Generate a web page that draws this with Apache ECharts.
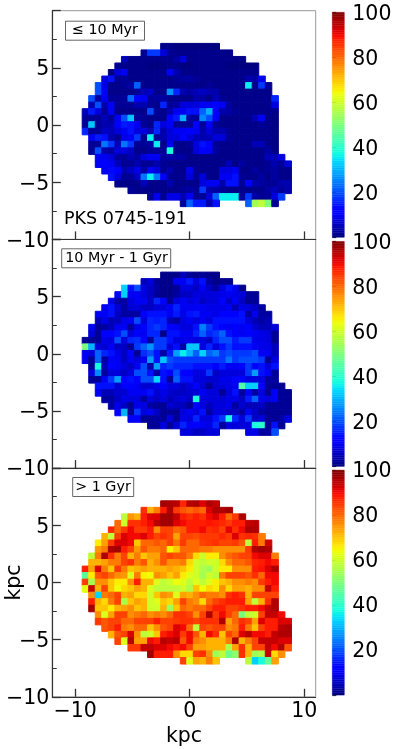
<!DOCTYPE html>
<html><head><meta charset="utf-8">
<style>html,body{margin:0;padding:0;background:#fff}#c{width:397px;height:749px}</style>
<script src="https://cdn.jsdelivr.net/npm/echarts@6/dist/echarts.min.js"></script>
</head><body><div id="c"></div>
<script>
// first populated column of each row (rows run from top to bottom)
const rowStart = [12,9,6,5,4,3,2,2,1,1,0,0,0,0,1,1,1,2,2,3,4,5,7,10,15];
const N = null;
const youngMap = [
[1,1,0,0,0,0,0,0,0],
[2,18,18,8,2,1,1,1,1,1,1,1,1,1],
[5,1,1,1,1,1,1,1,3,8,1,1,1,1,1,1,1,1,1],
[2,1,1,1,1,0,0,0,1,1,0,0,1,1,1,1,1,0,0,0,0,0],
[0,8,10,1,1,1,1,1,1,10,4,1,1,1,1,1,1,1,1,1,1,1,1],
[8,14,2,2,1,1,1,1,1,1,1,2,3,3,2,1,1,1,1,1,1,1,4,3,10],
[20,9,1,1,2,3,22,1,1,1,1,1,1,1,1,1,1,2,1,1,1,1,1,36,1,18,2],
[20,10,1,1,1,1,2,5,6,1,1,27,16,4,3,5,6,4,4,1,1,1,1,1,1,1,1],
[20,3,10,2,2,2,23,12,10,2,3,3,1,1,1,1,4,3,1,5,2,1,1,1,1,1,1,1,16],
[4,20,4,10,2,2,2,4,4,2,1,16,2,3,8,8,8,10,10,12,10,3,1,1,1,1,1,1,8],
[5,15,8,2,10,1,1,1,1,1,20,2,1,4,10,10,14,14,22,30,10,4,3,2,1,1,1,1,1,1],
[2,2,2,5,2,10,20,32,2,2,1,1,1,12,15,30,3,2,26,20,10,1,1,1,1,1,5,12,1,1],
[2,32,2,4,4,12,15,14,10,2,1,16,8,10,2,2,2,12,2,10,2,1,1,1,1,1,1,2,1,1],
[16,2,2,6,5,8,10,14,8,8,4,16,4,8,10,10,12,10,4,8,4,4,2,1,1,1,1,1,1,1],
[10,15,14,4,2,9,10,18,2,36,2,4,8,8,11,8,5,4,5,8,8,2,1,1,1,1,1,1,1],
[2,2,24,18,5,24,18,2,2,3,36,1,10,1,1,2,8,14,12,2,1,1,1,1,1,5,5,1,1],
[2,20,4,3,8,8,6,1,1,2,2,2,38,1,1,1,8,12,10,3,1,1,1,1,1,1,1,3,1],
[10,10,8,3,2,4,3,8,10,10,3,3,3,3,1,1,1,1,1,1,1,1,1,1,1,1,5,5,8],
[10,12,10,5,2,2,4,2,2,4,2,1,1,1,1,1,1,1,1,1,5,1,3,1,1,1,2,4,2,8],
[10,13,11,4,6,9,3,12,8,2,4,1,1,10,2,1,1,1,8,8,10,1,1,3,1,2,3,1,1],
[14,8,2,2,6,24,36,24,12,2,1,2,8,2,8,1,1,10,10,14,2,1,1,3,1,3,1,1],
[1,1,1,1,5,1,1,1,4,1,1,1,1,8,10,10,4,14,14,2,11,4,3,2,2,4,4],
[2,1,1,1,1,1,1,1,2,3,2,18,4,3,2,1,1,1,1,1,1,3,5,2,4],
[2,10,2,9,9,5,10,2,2,8,22,36,36,36,2,18,3,2,2,8,18],
[2,22,15,15,4,14,N,N,N,N,22,55,58,50,2]
];
const midMap = [
[1,1,1,5,2,1,2,1,1],
[5,8,2,1,1,10,10,15,8,14,3,1,2,1],
[33,14,20,8,6,3,1,1,2,8,8,6,10,6,3,8,14,10,1],
[12,33,10,10,8,6,2,1,1,3,6,6,8,8,8,8,9,10,9,8,2,2],
[10,3,3,8,10,10,6,16,12,2,8,10,8,9,6,8,8,12,6,10,6,2,2],
[10,14,7,3,7,8,6,6,8,8,10,16,10,10,10,10,9,9,9,10,5,9,8,6,3],
[10,10,14,6,3,3,3,12,14,14,14,10,15,9,14,15,10,10,9,12,11,11,14,3,10,3,3],
[5,9,5,5,9,10,20,8,16,15,16,5,3,8,10,8,10,8,14,14,14,14,14,8,5,3,5],
[10,2,3,5,10,10,3,9,12,16,18,16,12,10,8,8,14,25,18,14,12,10,12,10,12,7,5,5,8],
[8,2,12,12,14,20,8,12,10,16,16,1,14,14,10,10,16,22,16,18,22,14,12,10,12,10,9,8,2],
[2,2,2,9,8,20,8,16,17,12,2,18,18,14,8,9,9,8,8,6,16,20,20,15,18,18,9,9,8,2],
[50,30,8,7,10,6,6,2,18,22,27,18,18,8,14,3,32,32,8,16,8,14,18,14,14,14,10,9,9,5],
[10,8,22,16,14,9,6,12,2,17,20,14,3,15,28,36,30,22,33,22,25,18,20,18,18,18,20,10,10,5],
[10,2,22,3,10,10,6,10,8,10,28,14,32,20,18,18,18,18,18,18,18,18,24,18,20,20,20,18,2,8],
[2,38,5,12,10,8,6,10,20,3,28,16,18,16,16,16,14,14,14,12,15,10,10,12,18,12,14,8,14],
[8,26,3,8,8,6,8,20,20,14,3,14,12,20,12,12,8,8,18,6,8,8,8,8,18,28,14,10,2],
[2,2,10,18,28,12,14,12,20,20,34,14,2,22,14,14,8,8,7,7,9,9,12,12,8,8,8,3,3],
[14,14,14,7,12,12,10,7,7,9,12,8,8,6,8,12,7,2,7,8,9,10,45,33,33,12,2,2,2],
[10,5,5,7,7,10,10,10,14,7,9,7,6,6,7,7,10,8,8,2,8,14,3,10,3,8,2,10,2,2],
[3,3,6,9,8,8,3,8,6,8,5,7,8,6,38,8,8,8,7,9,9,6,15,22,9,8,10,2,2],
[3,9,6,2,9,9,3,2,2,7,6,5,2,12,8,5,8,8,9,3,7,5,5,6,2,2,2,2],
[12,30,2,18,8,10,6,2,2,2,8,10,8,14,3,8,8,6,6,3,10,6,3,2,2,2,2],
[10,12,2,2,3,2,8,2,9,8,16,8,8,14,18,38,16,8,18,6,8,2,2,3,8],
[2,2,8,2,8,16,10,12,10,9,16,2,8,8,8,8,38,40,2,14,2],
[8,8,6,6,8,8,N,N,N,N,9,9,3,3,20]
];
const oldMap = [
[97,96,95,87,95,96,92,96,94],
[86,72,78,88,96,85,82,80,82,80,92,96,96,97],
[58,75,72,88,92,92,97,97,94,88,86,88,86,90,92,88,80,85,96],
[80,60,86,86,88,90,95,97,97,92,90,88,88,88,89,88,87,85,88,88,94,95],
[87,80,85,90,85,85,88,76,84,84,80,82,88,88,90,86,87,84,91,86,90,96,96],
[72,58,85,92,90,90,92,88,84,86,84,74,84,84,83,85,85,85,87,85,92,86,87,86,78],
[66,74,85,92,92,90,70,80,80,82,80,84,78,85,80,80,84,85,86,84,84,85,82,58,88,78,93],
[75,78,96,97,88,84,75,82,78,78,80,65,70,80,80,80,78,78,76,76,76,76,76,85,96,97,96],
[58,78,96,86,78,84,72,78,70,74,74,82,84,82,82,78,68,60,66,66,76,80,82,84,84,90,92,92,78],
[72,72,74,78,78,84,86,78,82,72,76,82,76,76,78,68,60,58,60,60,68,76,80,80,82,87,88,90,88],
[88,74,92,78,70,85,78,70,72,74,72,72,72,74,72,70,66,60,56,54,60,66,66,76,76,76,88,89,92,96],
[46,66,82,84,80,76,75,62,78,65,64,76,74,70,74,66,62,60,55,60,58,78,84,84,84,82,86,80,90,90],
[85,55,76,76,70,66,66,76,88,72,72,62,58,60,64,62,58,62,58,62,66,70,72,76,76,78,76,85,88,90],
[63,94,72,84,70,64,68,70,74,72,62,58,58,58,58,60,56,70,64,68,66,76,68,74,74,72,76,76,94,88],
[76,33,78,80,84,72,74,68,68,60,70,76,74,62,74,72,76,80,78,78,76,86,88,86,72,84,84,84,84],
[88,72,68,78,84,56,70,74,72,60,62,70,68,74,84,78,76,68,80,84,86,88,88,88,74,58,72,86,96],
[97,70,70,66,72,74,76,70,72,60,60,72,54,70,80,78,80,80,84,88,88,84,84,86,88,88,90,94,96],
[76,62,74,84,84,76,78,80,76,78,76,80,86,86,84,76,84,96,85,90,84,80,50,58,60,84,94,94,90],
[85,82,84,84,80,80,84,84,84,88,84,84,85,86,86,84,86,86,86,96,74,80,86,84,74,92,88,88,92,92],
[82,84,88,78,76,80,80,70,76,82,84,92,90,80,58,84,82,84,84,76,78,88,78,70,84,88,88,95,96],
[72,82,84,92,76,58,60,70,88,90,92,85,90,82,72,90,86,70,84,80,92,95,90,90,88,94,96,96],
[84,62,95,74,74,90,88,95,94,95,82,90,78,76,72,72,72,78,96,72,78,84,94,94,94,92,92],
[85,85,94,94,92,92,90,88,90,84,74,74,72,72,72,56,74,86,72,84,84,94,90,96,82],
[97,88,88,88,76,68,68,84,86,76,54,58,48,52,86,72,54,56,94,68,76],
[84,62,74,72,78,70,N,N,N,N,58,33,38,48,74]
];
const panelLabels = ['\u2264 10 Myr', '10 Myr - 1 Gyr', '> 1 Gyr'];
const sourceName = 'PKS 0745-191';
const xMajorTicks = [-10, 0, 10];
const xMinorTicks = [-7.5, -5, -2.5, 2.5, 5, 7.5];
const axisTitle = 'kpc';

const FONT = 'DejaVu Sans';
const CELL = 0.571, X0 = -9.39, Y0 = 7.14;
const GRID_L = 52.3, GRID_W = 263.4, GRID_H = 228.7, GRID_T = [10.7, 239.4, 468.1];
const BAR_L = 332.3, BAR_W = 12, BAR_H = 225, BAR_T = [12.3, 241.4, 470.1];

function jetChannel(t, pts) {
  for (let i = 1; i < pts.length; i++) {
    if (t <= pts[i][0]) {
      const a = pts[i - 1], b = pts[i];
      return a[1] + (b[1] - a[1]) * (t - a[0]) / (b[0] - a[0]);
    }
  }
  return pts[pts.length - 1][1];
}
function jet(t) {
  const r = jetChannel(t, [[0,0],[0.35,0],[0.66,1],[0.89,1],[1,0.5]]);
  const g = jetChannel(t, [[0,0],[0.125,0],[0.375,1],[0.64,1],[0.91,0],[1,0]]);
  const b = jetChannel(t, [[0,0.5],[0.11,1],[0.34,1],[0.65,0],[1,0]]);
  return `rgb(${Math.round(r*255)},${Math.round(g*255)},${Math.round(b*255)})`;
}
const jetPalette = [];
for (let i = 0; i <= 100; i++) jetPalette.push(jet(i / 100));

function cells(map) {
  const out = [];
  map.forEach((row, r) => row.forEach((v, i) => {
    if (v === null) return;
    const c = rowStart[r] + i;
    out.push([X0 + (c + 0.5) * CELL, Y0 - (r + 0.5) * CELL, v]);
  }));
  return out;
}
function renderCell(params, api) {
  const x = api.value(0), y = api.value(1), h = CELL / 2;
  const a = api.coord([x - h, y + h]), b = api.coord([x + h, y - h]);
  const color = api.visual('color');
  return { type: 'rect', shape: { x: a[0], y: a[1], width: b[0] - a[0], height: b[1] - a[1] },
    style: { fill: color, stroke: color, lineWidth: 1 } };
}
function renderBar(params, api) {
  const v = api.value(1);
  const a = api.coord([0, v + 0.5]), b = api.coord([1, v - 0.5]);
  const color = api.visual('color');
  return { type: 'rect', shape: { x: a[0], y: a[1], width: b[0] - a[0], height: b[1] - a[1] },
    style: { fill: color, stroke: color, lineWidth: 0.4 } };
}
const barLevels = [];
for (let v = 0.5; v < 100; v += 1) barLevels.push([0, v, v]);

const minus = v => String(v).replace('-', '\u2212');
const LABEL_RICH = { t: { fontSize: 20.5, fontFamily: FONT, color: '#000', padding: [4, 0, 0, 0] } };
const AXC = '#333';
const grids = [], xAxes = [], yAxes = [], series = [], titles = [];
[youngMap, midMap, oldMap].forEach((map, p) => {
  const last = p === 2;
  const g = grids.length;
  grids.push({ left: GRID_L, top: GRID_T[p], width: GRID_W, height: GRID_H, show: true,
    outerBoundsMode: 'none', containLabel: false,
    borderColor: '#999', borderWidth: 1, backgroundColor: '#fff' });
  const xi = xAxes.length, yi = yAxes.length;
  xAxes.push({ type: 'value', gridIndex: g, min: -12, max: 11, splitLine: { show: false },
    name: last ? axisTitle : '', nameLocation: 'middle', nameGap: 29, nameMoveOverlap: false,
    nameTextStyle: { fontSize: 20.5, fontFamily: FONT, color: '#000' },
    axisLine: { onZero: false, lineStyle: { color: AXC, width: 1.2 } },
    axisTick: { inside: true, length: 8, customValues: xMajorTicks, lineStyle: { color: AXC, width: 1.3 } },
    axisLabel: { show: last, customValues: xMajorTicks, margin: 4, fontSize: 20.5, fontFamily: FONT, color: '#000', formatter: minus } });
  xAxes.push({ type: 'value', gridIndex: g, min: -12, max: 11, splitLine: { show: false },
    axisLine: { show: false },
    axisTick: { inside: true, length: 4.5, customValues: xMinorTicks, lineStyle: { color: AXC, width: 1 } },
    axisLabel: { show: false, customValues: xMinorTicks } });
  yAxes.push({ type: 'value', gridIndex: g, min: -10, max: 10, interval: 5, splitLine: { show: false },
    name: last ? axisTitle : '', nameLocation: 'middle', nameGap: 27, nameRotate: 90, nameMoveOverlap: false,
    nameTextStyle: { fontSize: 20.5, fontFamily: FONT, color: '#000' },
    axisLine: { onZero: false, lineStyle: { color: AXC, width: 1.2 } },
    axisTick: { inside: true, length: 8.5, lineStyle: { color: AXC, width: 1.3 } },
    minorTick: { show: true, splitNumber: 2, length: 4.5, lineStyle: { color: AXC, width: 1 } },
    minorSplitLine: { show: false },
    axisLabel: { margin: 3, rich: LABEL_RICH, hideOverlap: false,
      formatter: v => v === 10 ? '' : `{t|${minus(v)}}` } });
  series.push({ type: 'custom', xAxisIndex: xi, yAxisIndex: yi, renderItem: renderCell,
    data: cells(map), encode: { x: 0, y: 1 }, clip: false, animation: false, z: 1 });

  const gb = grids.length;
  grids.push({ left: BAR_L, top: BAR_T[p], width: BAR_W, height: BAR_H, show: false,
    outerBoundsMode: 'none', containLabel: false });
  const bxi = xAxes.length, byi = yAxes.length;
  xAxes.push({ type: 'value', gridIndex: gb, min: 0, max: 1, show: false });
  yAxes.push({ type: 'value', gridIndex: gb, min: 0, max: 100, interval: 20, position: 'right',
    splitLine: { show: false },
    axisLine: { show: false },
    axisTick: { length: 4, lineStyle: { color: AXC, width: 1.2 } },
    axisLabel: { margin: 8, rich: LABEL_RICH, hideOverlap: false,
      formatter: v => v === 0 ? '' : `{t|${v}}` } });
  series.push({ type: 'custom', xAxisIndex: bxi, yAxisIndex: byi, renderItem: renderBar,
    data: barLevels, encode: { x: 0, y: 1 }, clip: false, animation: false, z: 1 });
});
const boxLefts = [65.3, 61.7, 72.5], boxTops = [20.7, 248.3, 477];
const boxPadX = [6.7, 3.5, 2.7];
panelLabels.forEach((t, i) => titles.push({ text: t, left: boxLefts[i], top: boxTops[i],
  padding: [3, boxPadX[i], 3, boxPadX[i]], borderColor: '#666', borderWidth: 1, backgroundColor: '#fff',
  textStyle: { fontSize: 14.3, fontWeight: 'normal', fontFamily: FONT, color: '#000' }, z: 10 }));
titles.push({ text: sourceName, left: 64, top: 210, padding: 0,
  textStyle: { fontSize: 17.5, fontWeight: 'normal', fontFamily: FONT, color: '#000' }, z: 10 });

const chart = echarts.init(document.getElementById('c'), null, { renderer: 'canvas' });
chart.setOption({
  animation: false, backgroundColor: '#fff', title: titles, grid: grids, xAxis: xAxes, yAxis: yAxes,
  visualMap: { show: false, min: 0, max: 100, dimension: 2, seriesIndex: series.map((s, i) => i),
    inRange: { color: jetPalette } },
  series: series
});
</script></body></html>
